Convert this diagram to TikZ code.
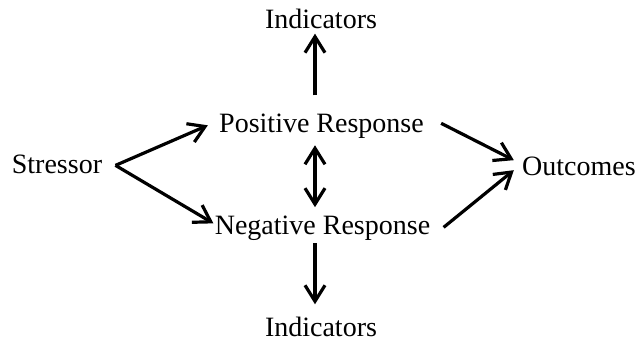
\documentclass[tikz,border=0pt]{standalone}
\usepackage{fontspec}
\setmainfont{Liberation Serif}
\usetikzlibrary{arrows.meta}

\begin{document}
\begin{tikzpicture}[
    x=0.5pt,y=-0.5pt,
    lbl/.style={inner sep=0pt,anchor=base,font=\fontsize{14}{16}\selectfont},
    arr/.style={-{Straight Barb[length=8pt,width=10pt]},line width=1.6pt},
    dbl/.style={{Straight Barb[length=8pt,width=10pt]}-{Straight Barb[length=8pt,width=10pt]},line width=1.6pt},
]
\useasboundingbox (0,0) rectangle (641,345);

% Nodes (placed on their baselines)
\node[lbl] (stress) at (57,173)    {Stressor};
\node[lbl] (pos)    at (321.5,132) {Positive Response};
\node[lbl] (neg)    at (322.5,234) {Negative Response};
\node[lbl] (indup)  at (321,28)    {Indicators};
\node[lbl] (inddn)  at (321,336)   {Indicators};
\node[lbl] (out)    at (579,175)   {Outcomes};

% Stressor splits into the two responses
\draw[arr] ([shift={(6.5pt,-0.75pt)}]stress.east) -- ([shift={(-5.5pt,0.2pt)}]pos.west);
\draw[arr] ([shift={(6.5pt,-0.75pt)}]stress.east) -- ([shift={(-0.5pt,2.2pt)}]neg.west);

% Responses lead to outcomes
\draw[arr] ([shift={(8.5pt,1.2pt)}]pos.east) -- ([shift={(-4pt,2.85pt)}]out.west);
\draw[arr] ([shift={(6.5pt,0.2pt)}]neg.east) -- ([shift={(-4pt,-2.15pt)}]out.west);

% Indicators of each response
\draw[arr] ([shift={(-3.25pt,8.9pt)}]pos.north) -- ([shift={(-3pt,-2.5pt)}]indup.south);
\draw[arr] ([shift={(-3.75pt,-1.45pt)}]neg.south) -- ([shift={(-3pt,5.95pt)}]inddn.north);

% Link between the responses
\draw[dbl] ([shift={(-3.25pt,-3.45pt)}]pos.south) -- ([shift={(-3.75pt,3.95pt)}]neg.north);

\end{tikzpicture}
\end{document}
